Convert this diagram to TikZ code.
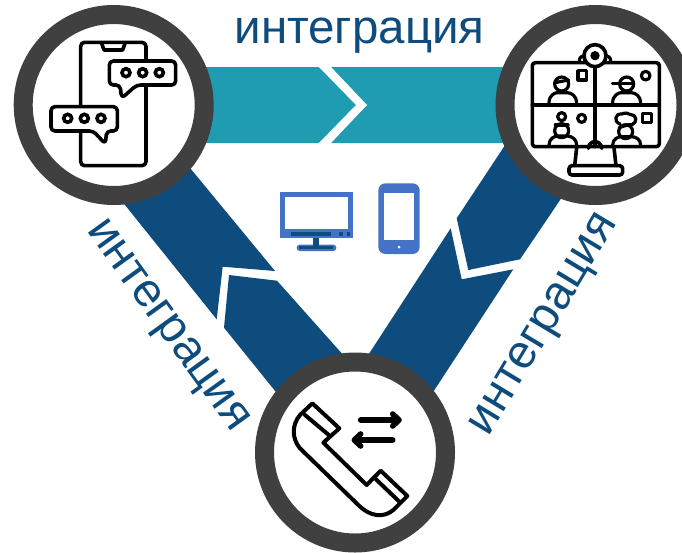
\documentclass[tikz,border=0pt]{standalone}
\usepackage{fontspec}
\setmainfont{Liberation Sans}
\definecolor{bandblue}{HTML}{0E4C7E}
\definecolor{bandteal}{HTML}{1F9CB2}
\definecolor{ringgrey}{HTML}{404040}
\definecolor{devblue}{HTML}{4472C4}
\tikzset{
  ring/.style={circle,draw=ringgrey,fill=white,line width=19pt,minimum size=181pt,inner sep=0pt,outer sep=0pt},
  band/.style={fill=bandblue,draw=none},
  lbl/.style={text=bandblue,anchor=base,inner sep=0pt,font=\fontsize{47.5}{47.5}\selectfont},
  iconline/.style={draw=black,line width=3.6pt,line join=round,line cap=round},
  iconbox/.style={iconline,fill=white},
  thinline/.style={draw=black,line width=3.2pt,line join=round,line cap=round},
  arrowline/.style={draw=black,line width=5.6pt,line cap=round,line join=round},
  zoomA/.style={shift={(0,0)},scale=1/3},
  zoomB/.style={shift={(480,0)},scale=1/3},
  zoomC/.style={shift={(250,340)},scale=1/3},
  zoomD/.style={shift={(260,170)},scale=1/3},
}
\begin{document}
\begin{tikzpicture}[x=1pt,y=-1pt]
\useasboundingbox (0,0) rectangle (682,552);
\clip (0,0) rectangle (682,552);
% teal band with chevron gap
\fill[bandteal,rounded corners=3pt] (160,67) -- (505,67) -- (505,143) -- (160,143) -- cycle;
\fill[white] (318,66) -- (330,66) -- (367,105) -- (330,144) -- (318,144) -- (356,105) -- cycle;
% left band
\fill[band] (150,119.5) -- (191.7,170) -- (275,271) -- (222.7,266.7) -- (216.7,319.3) -- (125,205) -- (89,160) -- cycle;
\fill[band] (277,280.7) -- (229,275) -- (224,327.7) -- (275.7,391.7) -- (300,423) -- (372,389) -- (341.7,353.3) -- cycle;
% right band
\fill[band] (530,107) -- (504,146.7) -- (456.7,218.3) -- (468.3,270) -- (520,259.3) -- (550,215) -- (580,170) -- cycle;
\fill[band] (450.7,228.3) -- (461.7,279.3) -- (513.3,269.3) -- (433.3,391.7) -- (413,422) -- (354,375) -- (369.3,353.3) -- cycle;
% rings
\node[ring] (chat) at (113.7,105) {};
\node[ring] (video) at (595.5,105) {};
\node[ring] (call) at (355,452.5) {};
% labels
\node[lbl] (ltop) at (359.5,43) {интеграция};
\node[lbl,rotate=-54.2] (lleft) at (159.2,331.7) {интеграция};
\node[lbl,rotate=58.9] (lright) at (553.3,330) {интеграция};
% chat icon
\begin{scope}[zoomA]
\draw[iconline,rounded corners=4pt] (242,127) rectangle (438,497);
\draw[iconline] (305,130) -- (312,150) -- (368,150) -- (375,130);
\draw[iconbox,rounded corners=4pt] (328,183) -- (527,183) -- (527,255) -- (410,255) -- (365,295) -- (360,255) -- (328,255) -- cycle;
\draw[iconbox,rounded corners=4pt] (153,320) -- (352,320) -- (352,393) -- (320,393) -- (316,432) -- (280,393) -- (153,393) -- cycle;
\foreach \cx in {378,428,478} \draw[line width=3.6pt,draw=black] (\cx,218) circle (12);
\foreach \cx in {203,253,303} \draw[line width=3.6pt,draw=black] (\cx,355) circle (12);
\end{scope}
% video icon
\begin{scope}[zoomB]
\draw[iconline,rounded corners=3pt] (157,188) rectangle (538,440);
\draw[iconline] (345,195) -- (345,440);
\draw[iconline] (157,315) -- (538,315);
\draw[thinline] (298,183) .. controls (298,172) and (305,168) .. (312,167);
\draw[thinline] (392,183) .. controls (392,172) and (385,168) .. (378,167);
\draw[iconbox] (345,167) circle (33);
\fill[black] (345,167) circle (14);
\draw[iconline] (290,443) -- (284,497);
\draw[iconline] (402,443) -- (408,497);
\draw[iconline,rounded corners=3pt] (267,497) rectangle (428,525);
\draw[iconline] (325,445) arc (180:0:20 and -20);
% person 1
\draw[thinline] (245,252) circle (21);
\draw[thinline] (224,248) -- (266,240);
\draw[thinline] (207,308) .. controls (207,285) and (225,278) .. (232,278) -- (262,278) .. controls (275,278) and (290,290) .. (290,308);
\draw[thinline] (294,212) rectangle (320,240);
% person 2
\draw[thinline] (440,252) circle (21);
\draw[thinline] (397,250) -- (461,250);
\draw[thinline] (398,308) .. controls (398,285) and (417,278) .. (424,278) -- (454,278) .. controls (467,278) and (482,290) .. (482,308);
\draw[thinline] (497,227) circle (13);
% person 3
\draw[thinline] (245,392) circle (21);
\draw[thinline] (245,350) circle (12);
\draw[thinline] (226,375) -- (264,375);
\draw[thinline] (207,435) .. controls (207,415) and (225,408) .. (232,408) -- (262,408) .. controls (275,408) and (290,418) .. (290,435);
\draw[thinline] (305,355) circle (12);
% person 4
\draw[thinline] (437,395) circle (21);
\draw[thinline] (420,372) .. controls (400,365) and (405,340) .. (425,342) .. controls (435,338) and (445,338) .. (452,344) .. controls (472,345) and (472,368) .. (456,374);
\draw[thinline] (418,382) .. controls (430,380) and (445,372) .. (456,374);
\draw[thinline] (398,435) .. controls (398,415) and (417,410) .. (424,410) -- (454,410) .. controls (467,410) and (482,418) .. (482,435);
\draw[thinline] (488,340) rectangle (514,368);
\end{scope}
% phone-call icon
\begin{scope}[zoomC]
\draw[iconline,line width=4pt] (187,190) -- (268,265) -- (220,308) -- (350,435) -- (392,392) -- (472,468) -- (430,510)
  .. controls (400,535) and (360,530) .. (325,495) -- (150,325) .. controls (125,295) and (125,255) .. (150,225) -- cycle;
\draw[iconline,line width=4pt] (165,225) -- (240,288);
\draw[iconline,line width=4pt] (378,418) -- (448,485);
\draw[arrowline] (332,240) -- (440,240);
\draw[arrowline] (428,222) -- (447,240) -- (428,258);
\draw[arrowline] (428,300) -- (320,300);
\draw[arrowline] (332,282) -- (313,300) -- (332,318);
\end{scope}
% devices
\begin{scope}[zoomD]
\fill[devblue] (60,67) rectangle (278,205);
\fill[white] (76,82) rectangle (263,178);
\fill[bandblue] (93,187) rectangle (213,197);
\fill[bandblue] (238,187) rectangle (248,197);
\fill[bandblue] (262,187) rectangle (271,197);
\fill[devblue,rounded corners=3pt] (110,224) rectangle (229,243);
\fill[bandblue] (160,205) rectangle (178,228);
\fill[bandblue] (118,228) rectangle (220,236);
\fill[devblue,rounded corners=7pt] (355,40) rectangle (479,252);
\fill[white] (371,68) rectangle (463,209);
\fill[white] (417,231) circle (4.5);
\end{scope}
\end{tikzpicture}
\end{document}
